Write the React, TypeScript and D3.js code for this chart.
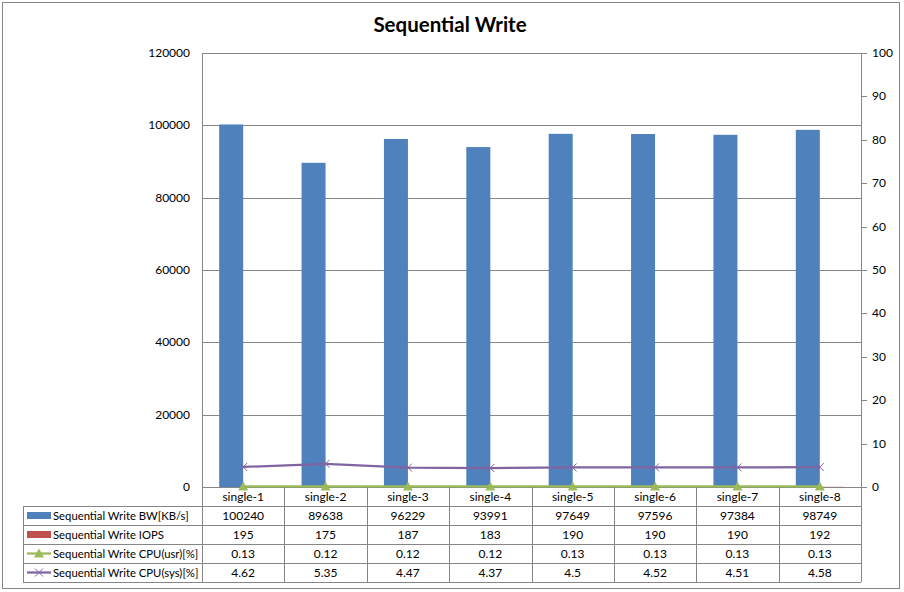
import React from "react";
import * as d3 from "d3";

const categories = ["single-1", "single-2", "single-3", "single-4", "single-5", "single-6", "single-7", "single-8"];
const bwValues = [100240, 89638, 96229, 93991, 97649, 97596, 97384, 98749];
const iopsValues = [195, 175, 187, 183, 190, 190, 190, 192];
const cpuUsrValues = [0.13, 0.12, 0.12, 0.12, 0.13, 0.13, 0.13, 0.13];
const cpuSysValues = [4.62, 5.35, 4.47, 4.37, 4.5, 4.52, 4.51, 4.58];
const leftTicks = [0, 20000, 40000, 60000, 80000, 100000, 120000];
const rightTicks = [0, 10, 20, 30, 40, 50, 60, 70, 80, 90, 100];
const seriesNames = [
  "Sequential Write BW[KB/s]",
  "Sequential Write IOPS",
  "Sequential Write CPU(usr)[%]",
  "Sequential Write CPU(sys)[%]",
];
const tableRows = [bwValues, iopsValues, cpuUsrValues, cpuSysValues];

const W = 904, H = 592;
const plotL = 202, plotR = 861, plotT = 53, plotB = 487;
const tableL = 23, rowH = 19, headerB = 506;
const gridColor = "#868686";
const colors = ["#4F81BD", "#C0504D", "#9BBB59", "#8064A2"];
const font = "Lato, 'Open Sans', sans-serif";

export default function App() {
  const x = d3.scaleBand<string>().domain(categories).range([plotL, plotR]).padding(0);
  const yL = d3.scaleLinear().domain([0, 120000]).range([plotB, plotT]);
  const yR = d3.scaleLinear().domain([0, 100]).range([plotB, plotT]);
  const bw = x.bandwidth();
  const barW = 24;
  const cx = (c: string) => (x(c) as number) + bw / 2;
  const lineGen = (vals: number[]) =>
    d3.line<number>().x((_, i) => cx(categories[i])).y((v) => yR(v))(vals) as string;
  const tableBottom = headerB + rowH * 4;

  return (
    <svg width={W} height={H} style={{ position: "absolute", left: 0, top: 0 }} fontFamily={font}>
      <rect x={0} y={0} width={W} height={H} fill="#fff" />
      <rect x={2.5} y={2.5} width={897} height={586} fill="#fff" stroke={gridColor} strokeWidth={1} />
      <text x={450} y={32} textAnchor="middle" fontSize={20.5} fontWeight="bold" fill="#000">
        Sequential Write
      </text>
      {/* gridlines */}
      {leftTicks.map((t) => (
        <line key={t} x1={plotL} x2={plotR} y1={Math.round(yL(t)) + 0.5} y2={Math.round(yL(t)) + 0.5} stroke={gridColor} />
      ))}
      {leftTicks.map((t) => (
        <text key={"l" + t} x={190} y={yL(t) + 4} textAnchor="end" fontSize={12} fill="#000">
          {t}
        </text>
      ))}
      {/* right axis */}
      <line x1={plotR + 0.5} x2={plotR + 0.5} y1={plotT} y2={tableBottom} stroke={gridColor} />
      {rightTicks.map((t) => (
        <g key={"r" + t}>
          <line x1={plotR} x2={plotR + 6} y1={Math.round(yR(t)) + 0.5} y2={Math.round(yR(t)) + 0.5} stroke={gridColor} />
          <text x={872} y={yR(t) + 4} fontSize={12} fill="#000">
            {t}
          </text>
        </g>
      ))}
      {/* bars */}
      {categories.map((c, i) => (
        <g key={"b" + c}>
          <rect x={cx(c) - barW} y={yL(bwValues[i])} width={barW} height={plotB - yL(bwValues[i])} fill={colors[0]} />
          <rect x={cx(c)} y={yL(iopsValues[i])} width={barW} height={plotB - yL(iopsValues[i])} fill={colors[1]} opacity={0.25} />
        </g>
      ))}
      {/* lines */}
      <path d={lineGen(cpuUsrValues)} fill="none" stroke={colors[2]} strokeWidth={2.25} />
      <path d={lineGen(cpuSysValues)} fill="none" stroke={colors[3]} strokeWidth={2.25} />
      {cpuUsrValues.map((v, i) => {
        const px = cx(categories[i]), py = yR(v);
        return <path key={"u" + i} d={`M${px},${py - 5}L${px + 5},${py + 4}L${px - 5},${py + 4}Z`} fill={colors[2]} />;
      })}
      {cpuSysValues.map((v, i) => {
        const px = cx(categories[i]), py = yR(v);
        return (
          <path key={"s" + i} d={`M${px - 4},${py - 4}L${px + 4},${py + 4}M${px - 4},${py + 4}L${px + 4},${py - 4}`} stroke={colors[3]} strokeWidth={1} />
        );
      })}
      {/* left axis */}
      <line x1={plotL + 0.5} x2={plotL + 0.5} y1={plotT} y2={tableBottom} stroke={gridColor} />
      {/* data table */}
      {categories.map((c, i) => (
        <g key={"t" + c}>
          <line x1={Math.round(x(c) as number) + 0.5} x2={Math.round(x(c) as number) + 0.5} y1={plotB} y2={tableBottom} stroke={gridColor} />
          <text x={cx(c)} y={plotB + 14} textAnchor="middle" fontSize={12} fill="#000">
            {c}
          </text>
          {tableRows.map((row, r) => (
            <text key={r} x={cx(c)} y={headerB + rowH * r + 14} textAnchor="middle" fontSize={12} fill="#000">
              {row[i]}
            </text>
          ))}
        </g>
      ))}
      {[0, 1, 2, 3, 4].map((r) => (
        <line key={"h" + r} x1={tableL} x2={plotR} y1={headerB + rowH * r + 0.5} y2={headerB + rowH * r + 0.5} stroke={gridColor} />
      ))}
      <line x1={tableL + 0.5} x2={tableL + 0.5} y1={headerB} y2={tableBottom} stroke={gridColor} />
      {seriesNames.map((name, r) => {
        const cy = headerB + rowH * r + rowH / 2;
        return (
          <g key={"k" + r}>
            {r < 2 ? (
              <rect x={27} y={cy - 3.5} width={24} height={7} fill={colors[r]} />
            ) : (
              <line x1={27} x2={51} y1={cy} y2={cy} stroke={colors[r]} strokeWidth={2.25} />
            )}
            {r === 2 && <path d={`M39,${cy - 5}L44,${cy + 4}L34,${cy + 4}Z`} fill={colors[2]} />}
            {r === 3 && (
              <path d={`M35,${cy - 4}L43,${cy + 4}M35,${cy + 4}L43,${cy - 4}`} stroke={colors[3]} strokeWidth={1} />
            )}
            <text x={53} y={cy + 4} fontSize={11.3} fill="#000">
              {name}
            </text>
          </g>
        );
      })}
    </svg>
  );
}
